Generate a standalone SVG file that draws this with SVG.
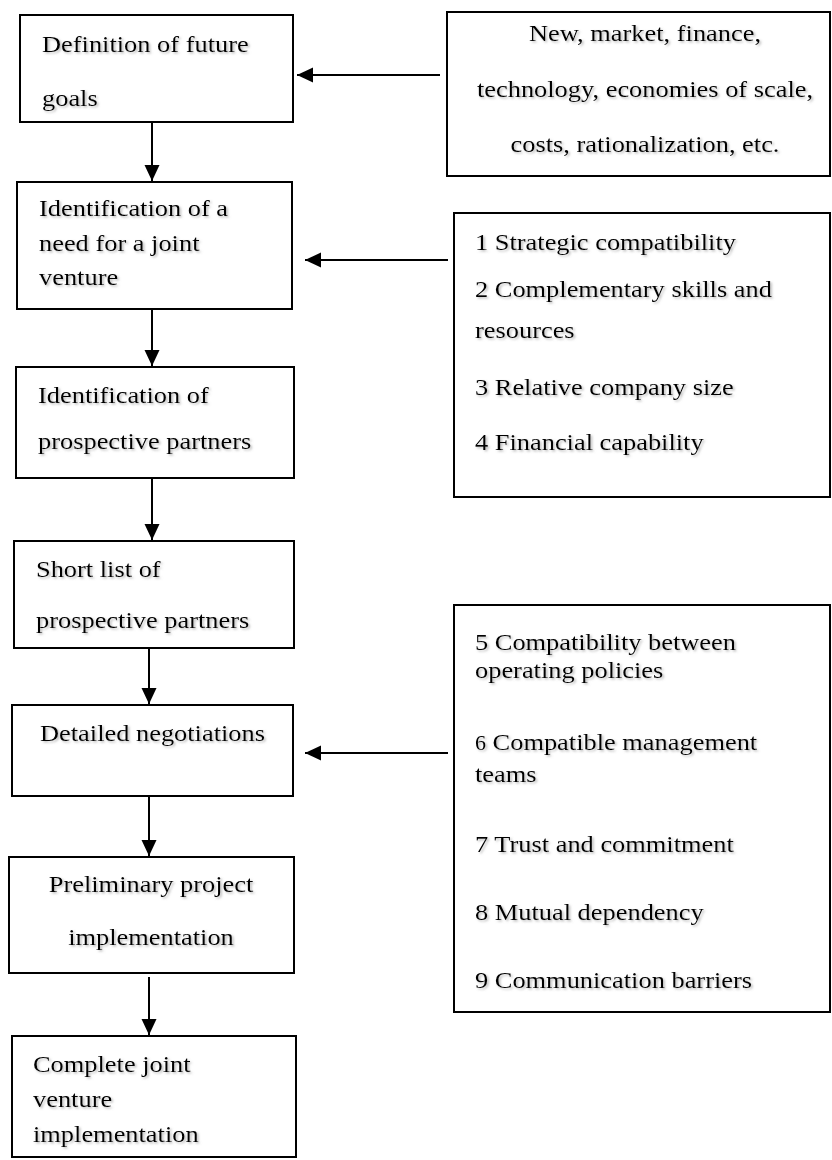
<svg xmlns="http://www.w3.org/2000/svg" width="832" height="1160" viewBox="0 0 832 1160">
  <defs>
    <style>
      .box { fill: #ffffff; stroke: #000000; stroke-width: 2; }
      .lbl { font-family: "Liberation Serif", "Times New Roman", serif; font-size: 24px; fill: #000000; filter: url(#soft); }
      .mid { text-anchor: middle; }
      .link { stroke: #000000; stroke-width: 2; fill: none; marker-end: url(#head); }
    </style>
    <marker id="head" markerUnits="userSpaceOnUse" markerWidth="18" markerHeight="16" refX="16" refY="7.5" orient="auto">
      <path d="M0,0 L16,7.5 L0,15 Z" fill="#000000"/>
    </marker>
    <filter id="soft" x="-5%" y="-20%" width="115%" height="150%">
      <feDropShadow dx="1.5" dy="1.5" stdDeviation="1" flood-color="#808080" flood-opacity="0.55"/>
    </filter>
  </defs>
  <rect width="832" height="1160" fill="#ffffff"/>

  <!-- main process column -->
  <g id="goals">
    <rect class="box" x="20" y="15" width="273" height="107"/>
    <text class="lbl" transform="matrix(1.1 0 0 1 42 52)"><tspan x="0" y="0">Definition of future</tspan><tspan x="0" y="54">goals</tspan></text>
  </g>
  <g id="need">
    <rect class="box" x="17" y="182" width="275" height="127"/>
    <text class="lbl" transform="matrix(1.1 0 0 1 39 216)"><tspan x="0" y="0">Identification of a</tspan><tspan x="0" y="35">need for a joint</tspan><tspan x="0" y="69">venture</tspan></text>
  </g>
  <g id="prospects">
    <rect class="box" x="16" y="367" width="278" height="111"/>
    <text class="lbl" transform="matrix(1.1 0 0 1 38 403)"><tspan x="0" y="0">Identification of</tspan><tspan x="0" y="46">prospective partners</tspan></text>
  </g>
  <g id="shortlist">
    <rect class="box" x="14" y="541" width="280" height="107"/>
    <text class="lbl" transform="matrix(1.1 0 0 1 36 577)"><tspan x="0" y="0">Short list of</tspan><tspan x="0" y="51">prospective partners</tspan></text>
  </g>
  <g id="negotiations">
    <rect class="box" x="12" y="705" width="281" height="91"/>
    <text class="lbl" transform="matrix(1.1 0 0 1 40 741)"><tspan x="0" y="0">Detailed negotiations</tspan></text>
  </g>
  <g id="preliminary">
    <rect class="box" x="9" y="857" width="285" height="116"/>
    <text class="lbl mid" transform="matrix(1.1 0 0 1 151 892)"><tspan x="0" y="0">Preliminary project</tspan><tspan x="0" y="53">implementation</tspan></text>
  </g>
  <g id="complete">
    <rect class="box" x="12" y="1036" width="284" height="121"/>
    <text class="lbl" transform="matrix(1.1 0 0 1 33 1072)"><tspan x="0" y="0">Complete joint</tspan><tspan x="0" y="35">venture</tspan><tspan x="0" y="70">implementation</tspan></text>
  </g>

  <!-- side panels of factors -->
  <g id="drivers">
    <rect class="box" x="447" y="12" width="383" height="164"/>
    <text class="lbl mid" transform="matrix(1.1 0 0 1 645 41)"><tspan x="0" y="0">New, market, finance,</tspan><tspan x="0" y="56">technology, economies of scale,</tspan><tspan x="0" y="111">costs, rationalization, etc.</tspan></text>
  </g>
  <g id="partner-criteria">
    <rect class="box" x="454" y="213" width="376" height="284"/>
    <text class="lbl" transform="matrix(1.1 0 0 1 475 250)"><tspan x="0" y="0">1 Strategic compatibility</tspan><tspan x="0" y="47">2 Complementary skills and</tspan><tspan x="0" y="88">resources</tspan><tspan x="0" y="145">3 Relative company size</tspan><tspan x="0" y="200">4 Financial capability</tspan></text>
  </g>
  <g id="negotiation-factors">
    <rect class="box" x="454" y="605" width="376" height="407"/>
    <text class="lbl" transform="matrix(1.1 0 0 1 475 650)"><tspan x="0" y="0">5 Compatibility between</tspan><tspan x="0" y="28">operating policies</tspan><tspan x="0" y="100"><tspan font-size="20">6</tspan> Compatible management</tspan><tspan x="0" y="132">teams</tspan><tspan x="0" y="202">7 Trust and commitment</tspan><tspan x="0" y="270">8 Mutual dependency</tspan><tspan x="0" y="338">9 Communication barriers</tspan></text>
  </g>

  <!-- connectors -->
  <g id="connectors">
    <line class="link" x1="152" y1="122" x2="152" y2="181"/>
    <line class="link" x1="152" y1="309" x2="152" y2="366"/>
    <line class="link" x1="152" y1="478" x2="152" y2="540"/>
    <line class="link" x1="149" y1="648" x2="149" y2="704"/>
    <line class="link" x1="149" y1="796" x2="149" y2="856"/>
    <line class="link" x1="149" y1="977" x2="149" y2="1035"/>
    <line class="link" x1="440" y1="75" x2="297" y2="75"/>
    <line class="link" x1="448" y1="260" x2="305" y2="260"/>
    <line class="link" x1="448" y1="753" x2="305" y2="753"/>
  </g>
</svg>
